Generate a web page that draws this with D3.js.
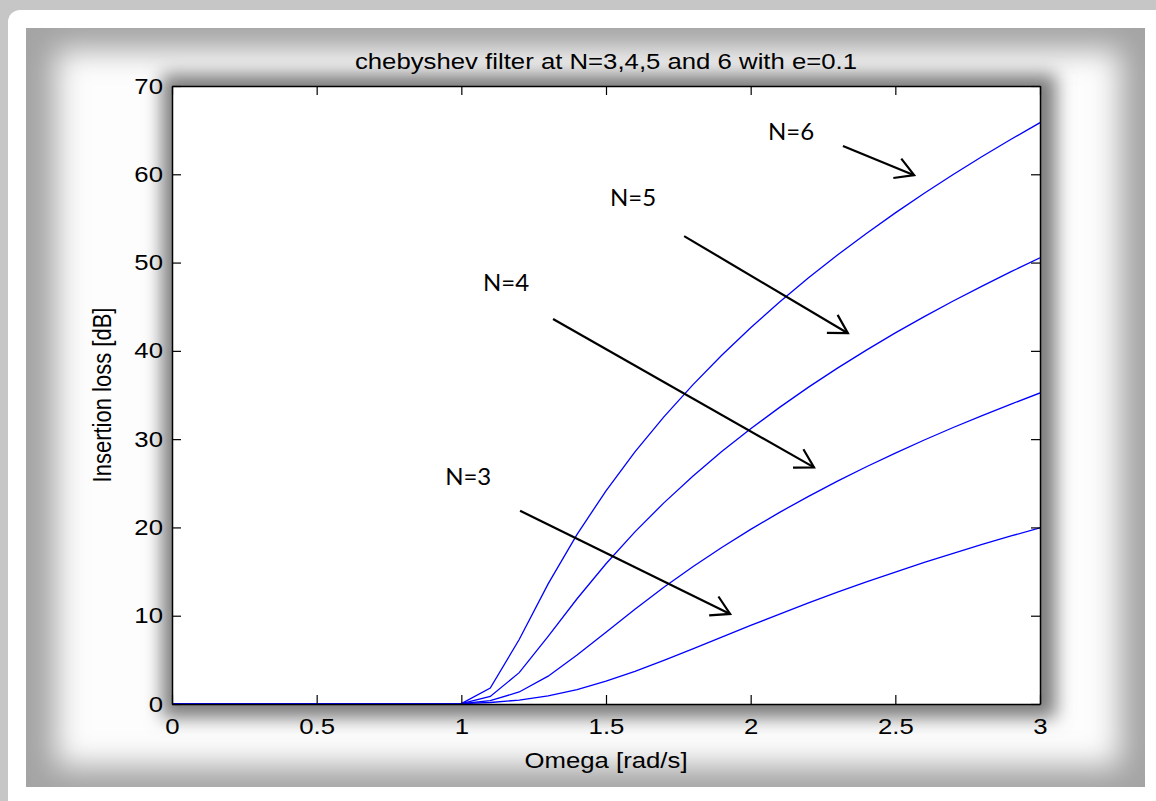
<!DOCTYPE html>
<html>
<head>
<meta charset="utf-8">
<script src="https://cdn.jsdelivr.net/npm/d3@7"></script>
<style>
  html, body { margin: 0; padding: 0; background: #c6c6c6; }
  svg { display: block; }
</style>
</head>
<body>
<svg id="chart" width="1156" height="801"></svg>
<script>
// ---------------- data ----------------
const omega = [0,0.1,0.2,0.3,0.4,0.5,0.6,0.7,0.8,0.9,1.0,1.1,1.2,1.3,1.4,1.5,1.6,1.7,1.8,1.9,2.0,2.1,2.2,2.3,2.4,2.5,2.6,2.7,2.8,2.9,3.0];
const lossN3 = [0.00,0.00,0.01,0.03,0.04,0.04,0.04,0.02,0.01,0.00,0.04,0.17,0.45,0.93,1.64,2.58,3.70,4.94,6.25,7.58,8.90,10.19,11.45,12.66,13.83,14.95,16.03,17.07,18.07,19.03,19.96];
const lossN4 = [0.04,0.04,0.02,0.01,0.00,0.01,0.03,0.04,0.03,0.00,0.04,0.38,1.36,3.15,5.54,8.14,10.74,13.22,15.55,17.73,19.78,21.71,23.52,25.24,26.87,28.42,29.90,31.32,32.67,33.97,35.23];
const lossN5 = [0.00,0.01,0.03,0.04,0.03,0.01,0.00,0.02,0.04,0.02,0.04,0.85,3.55,7.65,11.92,15.89,19.50,22.78,25.80,28.59,31.18,33.60,35.89,38.04,40.08,42.03,43.88,45.65,47.34,48.97,50.53];
const lossN6 = [0.04,0.03,0.01,0.00,0.03,0.04,0.02,0.00,0.02,0.04,0.04,1.81,7.31,13.60,19.22,24.15,28.55,32.52,36.15,39.50,42.61,45.53,48.27,50.85,53.30,55.63,57.86,59.98,62.01,63.97,65.85];
const xTicks = [0,0.5,1,1.5,2,2.5,3];
const yTicks = [0,10,20,30,40,50,60,70];
const titleText = "chebyshev filter at N=3,4,5 and 6 with e=0.1";
const xLabel = "Omega [rad/s]";
const yLabel = "Insertion loss [dB]";
// annotation labels (data coordinates)
const annLabels = ["N=6","N=5","N=4","N=3"];
const annTextX  = [2.06, 1.514, 1.075, 0.944];
const annTextY  = [63.9, 56.4, 46.8, 24.8];
const annFromX  = [2.319, 1.770, 1.317, 1.203];
const annFromY  = [63.2, 53.0, 43.6, 21.9];
const annToX    = [2.565, 2.336, 2.219, 1.929];
const annToY    = [59.9, 42.0, 26.8, 10.2];

// ---------------- layout ----------------
const svg = d3.select("#chart");
const plot = {left: 172, top: 86, right: 1040, bottom: 704};
const x = d3.scaleLinear().domain([0,3]).range([plot.left, plot.right]);
const y = d3.scaleLinear().domain([0,70]).range([plot.bottom, plot.top]);
const SX = 1.17; // horizontal stretch of the original picture's text

const defs = svg.append("defs");
defs.append("filter").attr("id","blurGlow").attr("x","-20%").attr("y","-20%").attr("width","140%").attr("height","140%")
  .append("feGaussianBlur").attr("stdDeviation", 15);
defs.append("filter").attr("id","blurShadow").attr("x","-20%").attr("y","-20%").attr("width","140%").attr("height","140%")
  .append("feGaussianBlur").attr("stdDeviation", 9);
defs.append("clipPath").attr("id","imgClip").append("rect")
  .attr("x",26).attr("y",28).attr("width",1119).attr("height",759);
defs.append("clipPath").attr("id","plotClip").append("rect")
  .attr("x",plot.left).attr("y",plot.top).attr("width",plot.right-plot.left).attr("height",plot.bottom-plot.top);

// white rounded slide frame
svg.append("rect").attr("x",8).attr("y",10).attr("width",1170).attr("height",820).attr("rx",12).attr("fill","#ffffff");

// figure picture with soft gray frame
const img = svg.append("g").attr("clip-path","url(#imgClip)");
img.append("rect").attr("x",26).attr("y",28).attr("width",1119).attr("height",759).attr("fill","#a4a4a4");
img.append("rect").attr("x",56).attr("y",50).attr("width",1064).attr("height",716)
  .attr("fill","#fdfdfd").attr("filter","url(#blurGlow)");
img.append("rect").attr("x",plot.left-10).attr("y",plot.top-12).attr("width",plot.right-plot.left+26).attr("height",plot.bottom-plot.top+26)
  .attr("fill","#7c7c7c").attr("filter","url(#blurShadow)");

// plot area
svg.append("rect").attr("x",plot.left).attr("y",plot.top)
  .attr("width",plot.right-plot.left).attr("height",plot.bottom-plot.top).attr("fill","#ffffff");

// curves
const series = [lossN3, lossN4, lossN5, lossN6];
const line = d3.line().x((d,i)=>x(omega[i])).y(d=>y(d));
const curves = svg.append("g").attr("clip-path","url(#plotClip)");
series.forEach(s => {
  curves.append("path").datum(s).attr("d", line)
    .attr("fill","none").attr("stroke","#0000ff").attr("stroke-width",1.3);
});

// axes (MATLAB box style, inward ticks on all sides)
const tickLen = 9;
const fontAxis = "'Liberation Sans', Arial, Helvetica, sans-serif";
const bottomAxis = d3.axisBottom(x).tickValues(xTicks).tickSizeInner(-tickLen).tickSizeOuter(0).tickPadding(14)
  .tickFormat(d3.format("~g"));
const topAxis = d3.axisTop(x).tickValues(xTicks).tickSizeInner(-tickLen).tickSizeOuter(0).tickFormat("");
const leftAxis = d3.axisLeft(y).tickValues(yTicks).tickSizeInner(-tickLen).tickSizeOuter(0).tickPadding(9)
  .tickFormat(d3.format("d"));
const rightAxis = d3.axisRight(y).tickValues(yTicks).tickSizeInner(-tickLen).tickSizeOuter(0).tickFormat("");

function styleAxis(g){
  g.select(".domain").attr("stroke","#000").attr("stroke-width",1.5);
  g.selectAll(".tick line").attr("stroke","#000").attr("stroke-width",1.2);
  g.selectAll(".tick text").attr("fill","#000").style("font-family",fontAxis).style("font-size","22px");
}
const gB = svg.append("g").attr("transform",`translate(0,${plot.bottom})`).call(bottomAxis).call(styleAxis);
svg.append("g").attr("transform",`translate(0,${plot.top})`).call(topAxis).call(styleAxis);
const gL = svg.append("g").attr("transform",`translate(${plot.left},0)`).call(leftAxis).call(styleAxis);
svg.append("g").attr("transform",`translate(${plot.right},0)`).call(rightAxis).call(styleAxis);
// horizontal stretch of tick labels, keeping anchors in place
gB.selectAll(".tick text").attr("transform",`scale(${SX},1)`);
gL.selectAll(".tick text").each(function(){
  const t = d3.select(this);
  const xx = +t.attr("x");
  t.attr("x", xx/SX).attr("transform",`scale(${SX},1)`);
});

// title and axis labels
function stretchedText(px, py, str, size, rot){
  return svg.append("text")
    .attr("transform",`translate(${px},${py}) scale(${SX},1)` + (rot ? ` rotate(${rot})` : ""))
    .attr("text-anchor","middle").style("font-family",fontAxis).style("font-size",size+"px").attr("fill","#000")
    .text(str);
}
stretchedText((plot.left+plot.right)/2, 69, titleText, 22);
stretchedText((plot.left+plot.right)/2, 768, xLabel, 22);
stretchedText(111, (plot.top+plot.bottom)/2, yLabel, 22, -90);

// annotations with open arrowheads
const ann = svg.append("g");
annLabels.forEach((lab,i) => {
  ann.append("text").attr("x",x(annTextX[i])).attr("y",y(annTextY[i]))
    .style("font-family","Lato, 'Open Sans', sans-serif").style("font-size","24px").attr("fill","#000")
    .text(lab);
  const x1 = x(annFromX[i]), y1 = y(annFromY[i]), x2 = x(annToX[i]), y2 = y(annToY[i]);
  ann.append("line").attr("x1",x1).attr("y1",y1).attr("x2",x2).attr("y2",y2)
    .attr("stroke","#000").attr("stroke-width",2.2);
  const ang = Math.atan2(y2-y1, x2-x1);
  const L = 21, spread = Math.PI/6;
  const ax1 = x2 - L*Math.cos(ang-spread), ay1 = y2 - L*Math.sin(ang-spread);
  const ax2 = x2 - L*Math.cos(ang+spread), ay2 = y2 - L*Math.sin(ang+spread);
  ann.append("path").attr("d",`M${ax1},${ay1}L${x2},${y2}L${ax2},${ay2}`)
    .attr("fill","none").attr("stroke","#000").attr("stroke-width",2.2).attr("stroke-linejoin","miter");
});
</script>
</body>
</html>
